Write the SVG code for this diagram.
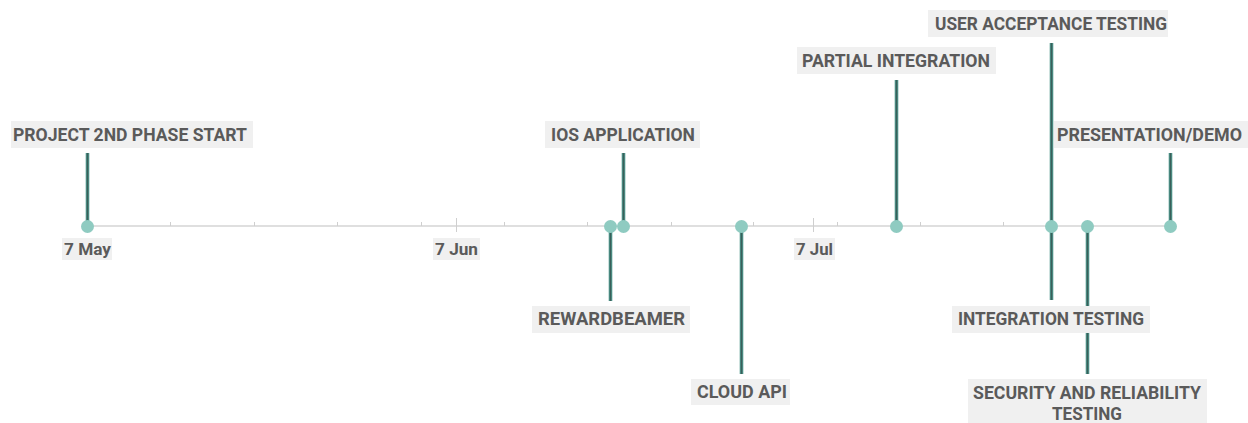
<svg xmlns="http://www.w3.org/2000/svg" width="1248" height="423" viewBox="0 0 1248 423">
<style>
.bg{fill:#f0f0f0}
.lbl{font-family:Roboto,"Liberation Sans",sans-serif;font-weight:700;font-size:18px;fill:#5a5a5a}
.dt{font-family:Roboto,"Liberation Sans",sans-serif;font-weight:700;font-size:16.5px;fill:#5a5a5a}
.stem{stroke:#4f978c;stroke-width:3.6;fill:none}
.core{stroke:#3a5f5a;stroke-width:1.5;fill:none}
.dot{fill:#8fcbc1}
.axis{stroke:#d4d4d4;stroke-width:1.3}
.tick{stroke:#cfcfcf;stroke-width:1}
</style>
<rect width="1248" height="423" fill="#ffffff"/>
<g id="axis">
<line class="axis" x1="87" y1="226" x2="1170" y2="226"/>
<g class="tick">
<line x1="170.5" y1="222" x2="170.5" y2="226"/>
<line x1="254.5" y1="222" x2="254.5" y2="226"/>
<line x1="337.5" y1="222" x2="337.5" y2="226"/>
<line x1="421.5" y1="222" x2="421.5" y2="226"/>
<line x1="456.5" y1="218" x2="456.5" y2="232"/>
<line x1="504.5" y1="222" x2="504.5" y2="226"/>
<line x1="587.5" y1="222" x2="587.5" y2="226"/>
<line x1="671.5" y1="222" x2="671.5" y2="226"/>
<line x1="753.5" y1="222" x2="753.5" y2="226"/>
<line x1="813.5" y1="218" x2="813.5" y2="232"/>
<line x1="837.5" y1="222" x2="837.5" y2="226"/>
<line x1="920.5" y1="222" x2="920.5" y2="226"/>
<line x1="1003.5" y1="222" x2="1003.5" y2="226"/>
</g>
<rect class="bg" x="62" y="238" width="50" height="22"/>
<text class="dt" x="64" y="255" textLength="47" lengthAdjust="spacingAndGlyphs">7 May</text>
<rect class="bg" x="433" y="238" width="47" height="22"/>
<text class="dt" x="435" y="255" textLength="43" lengthAdjust="spacingAndGlyphs">7 Jun</text>
<rect class="bg" x="794" y="238" width="41" height="22"/>
<text class="dt" x="796" y="255" textLength="37" lengthAdjust="spacingAndGlyphs">7 Jul</text>
</g>
<g id="connectors">
<g class="stem">
<line x1="87.5" y1="153" x2="87.5" y2="226"/>
<line x1="623.5" y1="153" x2="623.5" y2="226"/>
<line x1="610.5" y1="226" x2="610.5" y2="301"/>
<line x1="741.5" y1="226" x2="741.5" y2="374"/>
<line x1="896.5" y1="80" x2="896.5" y2="226"/>
<line x1="1051.5" y1="43" x2="1051.5" y2="226"/>
<line x1="1051.5" y1="226" x2="1051.5" y2="300"/>
<line x1="1087.5" y1="226" x2="1087.5" y2="374"/>
<line x1="1170.5" y1="153" x2="1170.5" y2="226"/>
</g>
<g class="core">
<line x1="87.5" y1="153" x2="87.5" y2="226"/>
<line x1="623.5" y1="153" x2="623.5" y2="226"/>
<line x1="610.5" y1="226" x2="610.5" y2="301"/>
<line x1="741.5" y1="226" x2="741.5" y2="374"/>
<line x1="896.5" y1="80" x2="896.5" y2="226"/>
<line x1="1051.5" y1="43" x2="1051.5" y2="226"/>
<line x1="1051.5" y1="226" x2="1051.5" y2="300"/>
<line x1="1087.5" y1="226" x2="1087.5" y2="374"/>
<line x1="1170.5" y1="153" x2="1170.5" y2="226"/>
</g>
</g>
<g id="n-project-start">
<circle class="dot" cx="87.5" cy="226.5" r="6.5"/>
<rect class="bg" x="11" y="121" width="242" height="27"/>
<text class="lbl" x="13" y="141" textLength="234" lengthAdjust="spacingAndGlyphs">PROJECT 2ND PHASE START</text>
</g>
<g id="n-rewardbeamer">
<circle class="dot" cx="610.5" cy="226.5" r="6.5"/>
<rect class="bg" x="532" y="306" width="158" height="27"/>
<text class="lbl" x="538" y="325" textLength="147" lengthAdjust="spacingAndGlyphs">REWARDBEAMER</text>
</g>
<g id="n-ios-application">
<circle class="dot" cx="623.5" cy="226.5" r="6.5"/>
<rect class="bg" x="545" y="121" width="155" height="27"/>
<text class="lbl" x="551" y="141" textLength="144" lengthAdjust="spacingAndGlyphs">IOS APPLICATION</text>
</g>
<g id="n-cloud-api">
<circle class="dot" cx="741.5" cy="226.5" r="6.5"/>
<rect class="bg" x="691" y="379" width="99" height="26"/>
<text class="lbl" x="697" y="398" textLength="90" lengthAdjust="spacingAndGlyphs">CLOUD API</text>
</g>
<g id="n-partial-integration">
<circle class="dot" cx="896.5" cy="226.5" r="6.5"/>
<rect class="bg" x="797" y="47" width="199" height="27"/>
<text class="lbl" x="802" y="67" textLength="188" lengthAdjust="spacingAndGlyphs">PARTIAL INTEGRATION</text>
</g>
<g id="n-user-acceptance">
<circle class="dot" cx="1051.5" cy="226.5" r="6.5"/>
<rect class="bg" x="928" y="10" width="240" height="27"/>
<text class="lbl" x="935" y="30" textLength="232" lengthAdjust="spacingAndGlyphs">USER ACCEPTANCE TESTING</text>
</g>
<g id="n-security-reliability">
<circle class="dot" cx="1087.5" cy="226.5" r="6.5"/>
<rect class="bg" x="968" y="379" width="239" height="44"/>
<text class="lbl" x="973" y="399" textLength="228" lengthAdjust="spacingAndGlyphs">SECURITY AND RELIABILITY</text>
<text class="lbl" x="1052" y="420" textLength="70" lengthAdjust="spacingAndGlyphs">TESTING</text>
</g>
<g id="n-integration-testing">
<rect class="bg" x="952" y="306" width="198" height="27"/>
<text class="lbl" x="958" y="325" textLength="186" lengthAdjust="spacingAndGlyphs">INTEGRATION TESTING</text>
</g>
<g id="n-presentation-demo">
<circle class="dot" cx="1170.5" cy="226.5" r="6.5"/>
<rect class="bg" x="1054" y="121" width="194" height="27"/>
<text class="lbl" x="1057" y="141" textLength="185" lengthAdjust="spacingAndGlyphs">PRESENTATION/DEMO</text>
</g>
</svg>
